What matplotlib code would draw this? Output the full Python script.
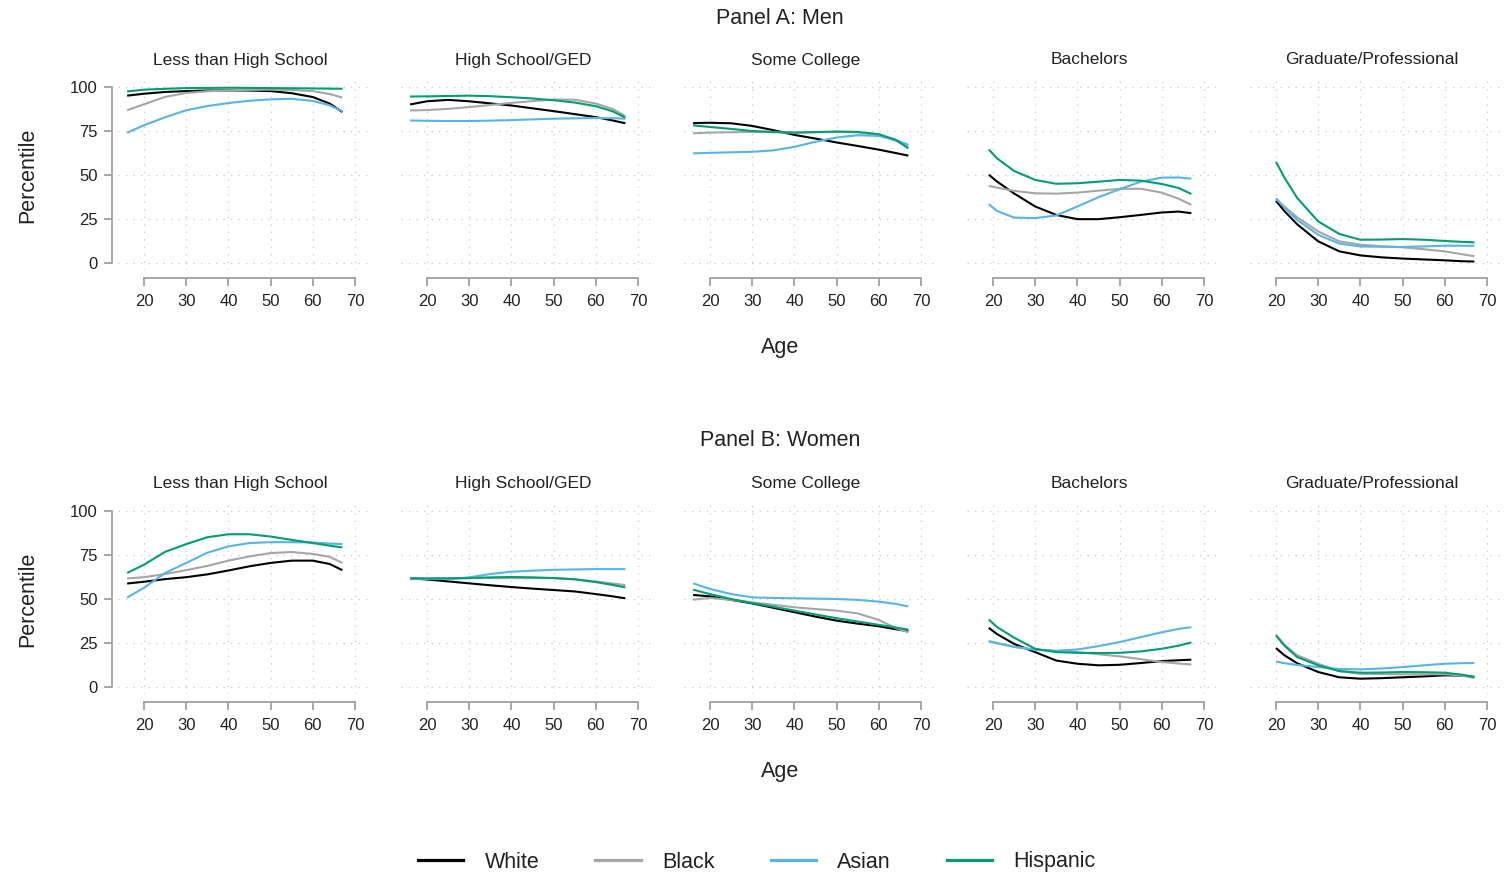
import matplotlib
matplotlib.use('Agg')
import matplotlib.pyplot as plt
from matplotlib.lines import Line2D

plt.rcParams['font.family'] = ['Liberation Sans', 'DejaVu Sans']

age_early = [16, 20, 25, 30, 35, 40, 45, 50, 55, 60, 64, 67]
age_bach = [19, 21, 25, 30, 35, 40, 45, 50, 55, 60, 64, 67]
age_grad = [20, 22, 25, 30, 35, 40, 45, 50, 55, 60, 64, 67]

educ_labels = ['Less than High School', 'High School/GED', 'Some College',
               'Bachelors', 'Graduate/Professional']
race_labels = ['White', 'Black', 'Asian', 'Hispanic']
race_colors = ['#000000', '#a6a6a6', '#56b4e9', '#009e73']

# Panel A: men
men_lths = [
    [95.1, 96.2, 97.2, 97.7, 98.0, 98.1, 98.0, 97.7, 96.5, 94.3, 90.6, 85.8],
    [86.8, 90.2, 94.4, 96.6, 97.6, 98.1, 98.4, 98.5, 98.3, 97.7, 96.0, 94.0],
    [74.0, 78.3, 82.8, 86.8, 89.2, 90.9, 92.2, 93.0, 93.3, 92.1, 89.6, 86.2],
    [97.5, 98.5, 99.0, 99.4, 99.5, 99.6, 99.5, 99.4, 99.3, 99.2, 99.1, 99.0],
]
men_hs = [
    [90.1, 91.9, 92.7, 91.9, 90.7, 89.5, 87.9, 86.3, 84.6, 82.9, 81.0, 79.4],
    [86.7, 86.9, 87.6, 88.6, 89.8, 91.0, 92.0, 92.9, 92.8, 90.6, 87.5, 83.5],
    [81.0, 80.8, 80.7, 80.7, 80.9, 81.2, 81.6, 82.0, 82.2, 82.4, 82.3, 82.0],
    [94.6, 94.7, 94.9, 95.1, 94.8, 94.2, 93.5, 92.5, 91.2, 89.1, 86.2, 82.6],
]
men_sc = [
    [79.5, 79.7, 79.4, 77.9, 75.5, 72.8, 70.7, 68.5, 66.5, 64.4, 62.5, 61.0],
    [73.7, 74.1, 74.3, 74.5, 74.3, 74.1, 74.3, 74.5, 74.2, 72.6, 69.5, 66.0],
    [62.3, 62.6, 62.9, 63.2, 64.0, 66.0, 68.9, 71.3, 72.6, 72.2, 70.0, 67.2],
    [78.2, 77.3, 76.2, 75.0, 74.5, 74.1, 74.4, 74.7, 74.5, 73.2, 70.0, 65.1],
]
men_bach = [
    [50.2, 46.2, 39.5, 32.1, 27.3, 24.9, 24.9, 26.0, 27.3, 28.7, 29.2, 28.3],
    [43.8, 42.8, 41.0, 39.6, 39.4, 40.0, 41.1, 42.1, 42.2, 40.0, 36.5, 33.0],
    [33.4, 29.5, 25.8, 25.5, 27.0, 32.1, 37.4, 41.9, 46.2, 48.5, 48.6, 47.9],
    [64.5, 59.4, 52.3, 47.2, 45.0, 45.3, 46.2, 47.2, 46.8, 44.9, 42.6, 39.2],
]
men_grad = [
    [35.3, 29.5, 22.0, 12.3, 6.6, 4.3, 3.2, 2.5, 2.0, 1.5, 1.0, 0.8],
    [36.2, 32.0, 26.0, 17.9, 12.3, 10.4, 9.5, 8.9, 7.8, 6.6, 5.0, 3.8],
    [36.8, 31.5, 24.5, 16.0, 11.0, 9.4, 9.2, 9.1, 9.4, 9.8, 9.8, 9.8],
    [57.5, 48.5, 37.0, 23.6, 16.5, 13.2, 13.3, 13.6, 13.2, 12.5, 12.0, 11.7],
]

# Panel B: women
women_lths = [
    [58.8, 59.8, 61.3, 62.4, 64.0, 66.2, 68.6, 70.5, 71.8, 71.8, 69.9, 66.4],
    [61.7, 62.4, 64.2, 66.4, 68.8, 71.8, 74.2, 76.1, 76.7, 75.6, 74.0, 70.5],
    [50.8, 56.4, 64.8, 70.5, 76.3, 79.9, 81.8, 82.3, 82.3, 82.1, 81.5, 81.2],
    [64.8, 69.5, 76.8, 81.2, 85.1, 86.8, 86.8, 85.5, 83.6, 81.8, 80.3, 79.3],
]
women_hs = [
    [61.7, 61.1, 60.0, 58.9, 57.8, 56.8, 55.9, 55.1, 54.3, 52.8, 51.5, 50.4],
    [61.3, 61.4, 61.6, 61.9, 61.9, 61.9, 61.9, 61.9, 61.2, 60.0, 58.8, 57.9],
    [61.9, 61.6, 61.3, 62.3, 64.2, 65.5, 66.1, 66.6, 66.8, 67.0, 67.0, 67.0],
    [61.7, 61.7, 61.8, 61.9, 62.3, 62.5, 62.3, 61.9, 61.2, 59.6, 58.0, 56.6],
]
women_sc = [
    [52.3, 51.5, 49.5, 47.5, 45.0, 42.5, 40.0, 37.7, 36.0, 34.5, 32.8, 31.7],
    [49.6, 50.6, 49.5, 48.1, 46.7, 45.3, 44.3, 43.4, 41.8, 38.1, 33.5, 31.1],
    [58.9, 55.7, 52.8, 50.9, 50.6, 50.4, 50.2, 50.0, 49.5, 48.5, 47.2, 45.8],
    [55.3, 52.8, 50.0, 47.7, 45.6, 43.4, 41.2, 39.1, 37.2, 35.3, 33.8, 32.6],
]
women_bach = [
    [33.6, 30.0, 24.5, 19.8, 15.0, 13.2, 12.3, 12.6, 13.6, 14.7, 15.2, 15.5],
    [26.0, 24.8, 22.8, 21.3, 20.3, 19.8, 18.6, 17.4, 15.8, 14.2, 13.3, 12.8],
    [26.0, 25.0, 22.8, 21.1, 20.6, 21.3, 23.2, 25.5, 28.3, 31.1, 33.0, 34.0],
    [38.3, 34.0, 28.0, 21.7, 19.8, 19.4, 19.3, 19.4, 20.2, 21.7, 23.5, 25.3],
]
women_grad = [
    [22.1, 18.0, 13.5, 8.5, 5.5, 4.7, 5.0, 5.5, 6.0, 6.6, 6.5, 5.7],
    [29.6, 24.0, 18.0, 13.2, 9.0, 7.5, 7.3, 7.2, 7.2, 7.2, 6.5, 5.1],
    [14.5, 13.5, 12.5, 11.3, 10.2, 10.0, 10.5, 11.3, 12.3, 13.2, 13.5, 13.6],
    [29.2, 23.5, 17.0, 12.3, 9.0, 8.1, 8.2, 8.5, 8.4, 8.1, 7.0, 5.7],
]

ages_l = [age_early, age_early, age_early, age_bach, age_grad]
men_l = [men_lths, men_hs, men_sc, men_bach, men_grad]
women_l = [women_lths, women_hs, women_sc, women_bach, women_grad]

x_ticks = [20, 30, 40, 50, 60, 70]
y_ticks = [0, 25, 50, 75, 100]

# layout (pixels)
W, H = 1504, 875
txt_col = '#222222'
ax_col = '#a0a0a0'

fig = plt.figure(figsize=(W/100, H/100), dpi=100)


def px_rect(left, top, width, height):
    return [left/W, 1 - (top + height)/H, width/W, height/H]


def draw_row(series_l, top, title_y, sub_y, age_y, title):
    fig.text(780/W, 1 - title_y/H, title, ha='center', va='center',
             fontsize=15.5, color=txt_col)
    for j in range(5):
        left = 118 + 283*j
        ax = fig.add_axes(px_rect(left, top, 252, 190))
        for k in range(4):
            ax.plot(ages_l[j], series_l[j][k], color=race_colors[k], lw=1.5,
                    solid_capstyle='butt', zorder=3)
        ax.set_xlim(13.84, 73.55)
        ax.set_ylim(-4, 104)
        ax.set_xticks(x_ticks)
        ax.set_yticks(y_ticks)
        ax.grid(True, color='#c8c8c8', lw=0.9, ls=(0, (1, 5)))
        for s in ['top', 'right']:
            ax.spines[s].set_visible(False)
        ax.spines['bottom'].set_position(('outward', 6))
        ax.spines['bottom'].set_bounds(20, 70)
        ax.spines['bottom'].set_color(ax_col)
        ax.spines['bottom'].set_linewidth(1.3)
        ax.tick_params(axis='x', length=6, width=1.3, color=ax_col, pad=5,
                       labelsize=12, labelcolor=txt_col)
        if j == 0:
            ax.spines['left'].set_position(('outward', 4.5))
            ax.spines['left'].set_bounds(0, 100)
            ax.spines['left'].set_color(ax_col)
            ax.spines['left'].set_linewidth(1.3)
            ax.tick_params(axis='y', length=6, width=1.3, color=ax_col,
                           pad=4, labelsize=12, labelcolor=txt_col)
            ax.set_ylabel('Percentile', fontsize=15.5, color=txt_col,
                          labelpad=23)
        else:
            ax.spines['left'].set_visible(False)
            ax.tick_params(axis='y', length=0, labelleft=False)
        fig.text((left + 122)/W, 1 - sub_y/H, educ_labels[j], ha='center',
                 va='center', fontsize=12.5, color=txt_col)
    fig.text(780/W, 1 - age_y/H, 'Age', ha='center', va='center',
             fontsize=15.5, color=txt_col)


draw_row(men_l, 80, 18, 60, 347, 'Panel A: Men')
draw_row(women_l, 504, 441, 483, 771, 'Panel B: Women')

handles = [Line2D([], [], color=c, lw=2.3) for c in race_colors]
fig.legend(handles, race_labels, loc='center', ncol=4,
           bbox_to_anchor=(757/W, 1 - 862/H), frameon=False, fontsize=15.5,
           handlelength=2.1, handletextpad=1.0, columnspacing=2.6,
           labelcolor=txt_col)

fig.savefig('out.png', dpi=100, facecolor='white')
